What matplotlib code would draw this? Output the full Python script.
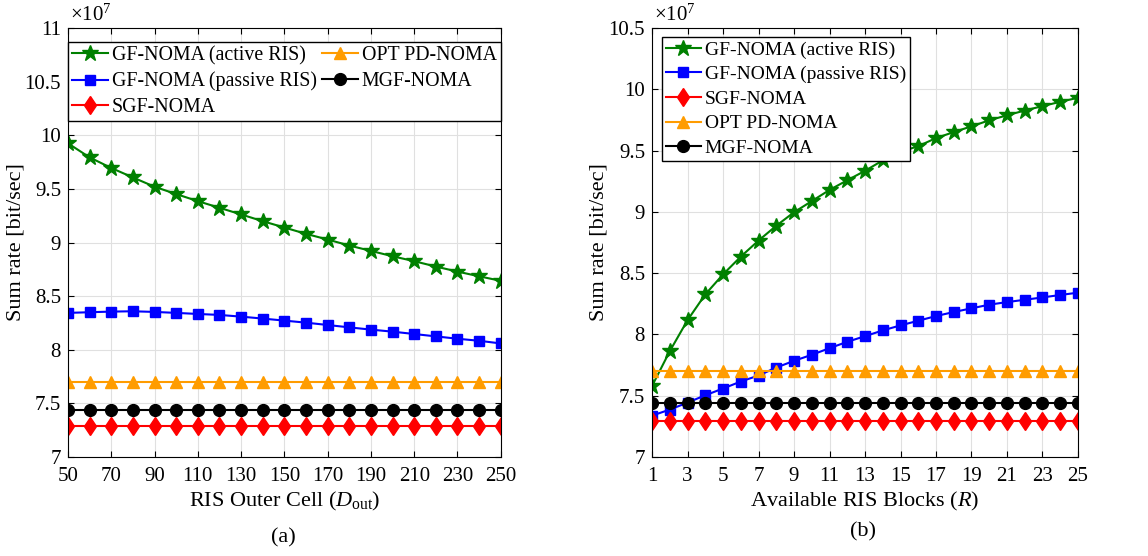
import matplotlib
matplotlib.use('Agg')
import matplotlib.pyplot as plt

plt.rcParams['font.family'] = ['Liberation Serif', 'DejaVu Serif']
plt.rcParams['mathtext.fontset'] = 'custom'
plt.rcParams['mathtext.rm'] = 'Liberation Serif'
plt.rcParams['mathtext.it'] = 'Liberation Serif:italic'

# sum rate, in units of 1e7 bit/sec
d_out = list(range(50, 251, 10))
a_active = [9.925, 9.794, 9.695, 9.607, 9.520, 9.452, 9.386, 9.324, 9.262, 9.199, 9.140,
            9.081, 9.028, 8.972, 8.922, 8.872, 8.826, 8.776, 8.729, 8.685, 8.643]
a_passive = [8.344, 8.350, 8.356, 8.359, 8.353, 8.344, 8.334, 8.325, 8.309, 8.291, 8.272,
             8.253, 8.231, 8.209, 8.188, 8.169, 8.147, 8.125, 8.103, 8.084, 8.059]
a_sgf = [7.29] * len(d_out)
a_opt = [7.70] * len(d_out)
a_mgf = [7.44] * len(d_out)

blocks = list(range(1, 26))
b_active = [7.580, 7.864, 8.117, 8.327, 8.490, 8.635, 8.766, 8.887, 8.997, 9.088, 9.179,
            9.258, 9.335, 9.420, 9.490, 9.536, 9.602, 9.651, 9.698, 9.747, 9.788, 9.827,
            9.863, 9.898, 9.931]
b_passive = [7.338, 7.387, 7.444, 7.504, 7.559, 7.616, 7.665, 7.730, 7.785, 7.834, 7.888,
             7.940, 7.986, 8.033, 8.074, 8.112, 8.150, 8.183, 8.213, 8.243, 8.264, 8.283,
             8.302, 8.322, 8.341]
b_sgf = [7.29] * len(blocks)
b_opt = [7.70] * len(blocks)
b_mgf = [7.44] * len(blocks)

labels = ['GF-NOMA (active RIS)', 'GF-NOMA (passive RIS)', 'SGF-NOMA',
          'OPT PD-NOMA', 'MGF-NOMA']
colors = ['#008000', '#0000ff', '#ff0000', '#ff9c00', '#000000']
markers = ['*', 's', 'd', '^', 'o']
msizes = [12, 7.5, 9.5, 9, 8.5]


def draw(ax, x, series, ylab_x):
    for y, lab, c, m, ms in zip(series, labels, colors, markers, msizes):
        ax.plot(x, y, color=c, marker=m, markersize=ms, linewidth=1.5, label=lab,
                markeredgecolor=c, markerfacecolor=c)
    ax.grid(True, color='#e0e0e0', linewidth=0.8)
    ax.set_axisbelow(True)
    ax.tick_params(direction='in', top=True, right=True, labelsize=15, length=4)
    ax.tick_params(axis='x', pad=7)
    ax.tick_params(axis='y', pad=5)
    for s in ax.spines.values():
        s.set_linewidth(0.8)
    ax.text(0.005, 1.005, r'$\times10^{7}$', transform=ax.transAxes, fontsize=15,
            ha='left', va='bottom')
    ax.set_ylabel('Sum rate [bit/sec]', fontsize=16)
    ax.yaxis.set_label_coords(ylab_x, 0.5)


fig = plt.figure(figsize=(11.48, 5.56), dpi=100)
ax1 = fig.add_axes([0.0592, 0.178, 0.377, 0.7716])
ax2 = fig.add_axes([0.568, 0.178, 0.371, 0.7716])

draw(ax1, d_out, [a_active, a_passive, a_sgf, a_opt, a_mgf], -0.097)
ax1.set_xlim(50, 250)
ax1.set_ylim(7, 11)
ax1.set_xticks(range(50, 251, 20))
ax1.set_yticks([7, 7.5, 8, 8.5, 9, 9.5, 10, 10.5, 11])
ax1.set_yticklabels(['7', '7.5', '8', '8.5', '9', '9.5', '10', '10.5', '11'])
ax1.set_xlabel(r'RIS Outer Cell ($D_{\mathrm{out}}$)', fontsize=16, labelpad=3)
ax1.legend(loc='upper left', bbox_to_anchor=(0, 0.786, 1, 0.181), mode='expand',
           ncol=2, fontsize=14.3, frameon=True, fancybox=False, framealpha=1,
           edgecolor='black', handlelength=1.8, handletextpad=0.2,
           labelspacing=0.32, borderpad=0.2, borderaxespad=0, columnspacing=0.3)

draw(ax2, blocks, [b_active, b_passive, b_sgf, b_opt, b_mgf], -0.103)
ax2.set_xlim(1, 25)
ax2.set_ylim(7, 10.5)
ax2.set_xticks(range(1, 26, 2))
ax2.set_yticks([7, 7.5, 8, 8.5, 9, 9.5, 10, 10.5])
ax2.set_yticklabels(['7', '7.5', '8', '8.5', '9', '9.5', '10', '10.5'])
ax2.set_xlabel(r'Available RIS Blocks ($R$)', fontsize=16, labelpad=3)
ax2.legend(loc='upper left', bbox_to_anchor=(0.023, 0.979), ncol=1, fontsize=14,
           frameon=True, fancybox=False, framealpha=1, edgecolor='black',
           handlelength=1.8, handletextpad=0.2, labelspacing=0.36, borderpad=0.2,
           borderaxespad=0)

fig.text(0.247, 0.032, '(a)', fontsize=16, ha='center', va='center')
fig.text(0.752, 0.043, '(b)', fontsize=16, ha='center', va='center')

fig.savefig('out.png', dpi=100)
